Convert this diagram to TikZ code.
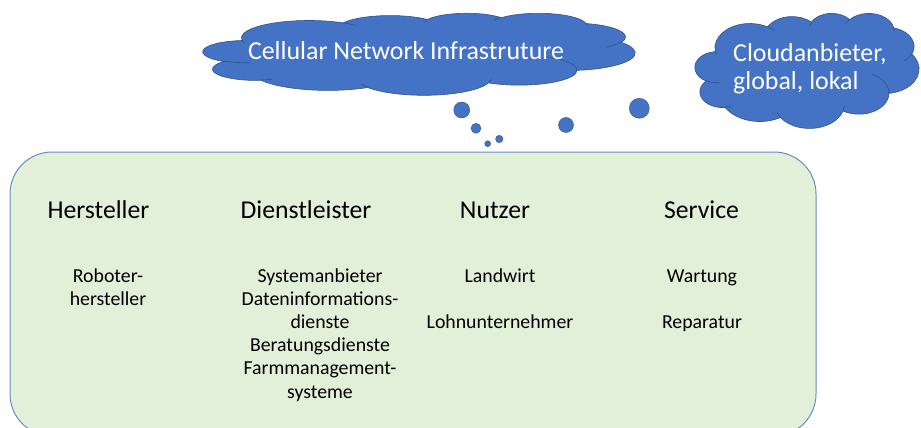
\documentclass[tikz,border=0pt]{standalone}
\usepackage{fontspec}
\setmainfont{Carlito}
\usetikzlibrary{positioning}
\definecolor{cloudblue}{HTML}{4472C4}
\definecolor{cloudedge}{HTML}{2F528F}
\definecolor{areagreen}{HTML}{E2F0D9}
\definecolor{areaedge}{HTML}{6A8CC4}
\tikzset{
  bereich/.style  = {draw=areaedge, fill=areagreen, line width=1pt, rectangle,
                     rounded corners=42pt, inner sep=0pt},
  wlinie/.style   = {draw=cloudedge, line width=0.6pt},
  wolketxt/.style = {text=white, font=\fontsize{25.9}{28.3}\selectfont, inner sep=0pt},
  blase/.style    = {circle, draw=cloudedge, fill=cloudblue, line width=0.4pt, inner sep=0pt},
  kopf/.style     = {font=\fontsize{25.7}{30}\selectfont, anchor=base, inner sep=0pt},
  eintrag/.style  = {font=\fontsize{19.8}{23.2}\selectfont, anchor=base, align=center, inner sep=0pt},
}
% Wolkenbogen: Radien, Startwinkel, Winkelspanne (Winkel am Ellipsenrand gemessen)
\newcommand\wbogen[4]{arc[x radius=#1, y radius=#2,
  start angle={atan2(#1*sin(#3),#2*cos(#3))},
  delta angle={mod(atan2(#1*sin(#3+#4),#2*cos(#3+#4))-atan2(#1*sin(#3),#2*cos(#3))+720,360)}]}
% Umriss einer Wolke im Feld 4320 x 4320
\newcommand\wolkenumriss{(390,1437)
  \wbogen{675.3}{919}{-190.4875}{123.7805}
  \wbogen{533.3}{726.7}{-144.1024}{89.9452}
  \wbogen{436.5}{594.5}{-145.8079}{99.7230}
  \wbogen{485.7}{659.5}{-130.9861}{117.2417}
  \wbogen{533.3}{727.3}{-78.7089}{109.0269}
  \wbogen{677.5}{922}{-46.2673}{130.2690}
  \wbogen{578.5}{786.7}{0.6250}{114.0333}
  \wbogen{675.2}{921.5}{22.4516}{115.1726}
  \wbogen{772}{1054.3}{66.2426}{75.7110}
  \wbogen{436}{591.8}{-274.9421}{146.7356}
  \wbogen{434.5}{594.5}{-246.8285}{152.5189} -- cycle}
\newcommand\wolkeninnen{(469.3,2617.7) \wbogen{434.5}{594.5}{86.742}{26.4295}
  (692.8,3489.9) \wbogen{436}{591.8}{73.6105}{11.4475}
  (1647.8,3909) \wbogen{675.2}{921.5}{137.6242}{14.0811}
  (2882.7,3475.1) \wbogen{675.2}{921.5}{6.4533}{15.9984}
  (3412.9,2295.4) \wbogen{578.5}{786.7}{-70.2924}{70.9174}
  (4179.8,1535.4) \wbogen{533.3}{727.3}{30.3180}{27.7515}
  (3832.4,542.6) \wbogen{485.7}{659.5}{-13.7443}{14.8589}
  (2907.8,395.2) \wbogen{485.7}{659.5}{-149.1815}{18.1954}
  (2214.1,472) \wbogen{436.5}{594.5}{-163.4943}{17.6864}
  (1400,519.2) \wbogen{675.3}{919}{-66.7070}{12.3194}
  (412.7,1578.9) \wbogen{675.3}{919}{157.6544}{11.8582}}

\begin{document}
\begin{tikzpicture}[x=1pt,y=-1pt]
  \useasboundingbox (0,0) rectangle (921,428);
  % Plattform
  \node[bereich, minimum width=806pt, minimum height=284pt] (plattform) at (413,294) {};
  % Wolken
  \begin{scope}[shift={(203,13)}, x=0.1pt, y=-0.018981pt]
    \fill[cloudblue] \wolkenumriss;
    \draw[wlinie] \wolkenumriss;
    \draw[wlinie] \wolkeninnen;
  \end{scope}
  \begin{scope}[shift={(695,13)}, x=0.051852pt, y=-0.02662pt]
    \fill[cloudblue] \wolkenumriss;
    \draw[wlinie] \wolkenumriss;
    \draw[wlinie] \wolkeninnen;
  \end{scope}
  \node[wolketxt, anchor=base] (netztxt) at (406,59.3) {Cellular Network Infrastruture};
  \node[wolketxt, align=left, anchor=base west] (cloudtxt) at (733,89.3) {Cloudanbieter,\\global, lokal};
  % Blasen
  \node[blase, minimum size=16pt] (b1) at (461.7,110) {};
  \node[blase, minimum size=10pt] (b2) at (476,128.3) {};
  \node[blase, minimum size=6pt]  (b3) at (487.7,143.7) {};
  \node[blase, minimum size=7.4pt] (b4) at (499.3,139) {};
  \node[blase, minimum size=15pt] (b5) at (566,125) {};
  \node[blase, minimum size=20pt] (b6) at (639.3,108.3) {};
  % Spalten
  \node[kopf] (hersteller) at (98.5,218.5) {Hersteller};
  \node[kopf] (dienst) at (306,218.5) {Dienstleister};
  \node[kopf] (nutzer) at (495,218.5) {Nutzer};
  \node[kopf] (service) at (701.5,218.5) {Service};
  \node[eintrag] (roboter) at (108,305.2) {Roboter-\\hersteller};
  \node[eintrag] (anbieter) at (320,398) {Systemanbieter\\Dateninformations-\\dienste\\Beratungsdienste\\Farmmanagement-\\systeme};
  \node[eintrag] (landwirt) at (500,328.4) {Landwirt\\[23.2pt]Lohnunternehmer};
  \node[eintrag] (wartung) at (702,328.4) {Wartung\\[23.2pt]Reparatur};
\end{tikzpicture}
\end{document}
